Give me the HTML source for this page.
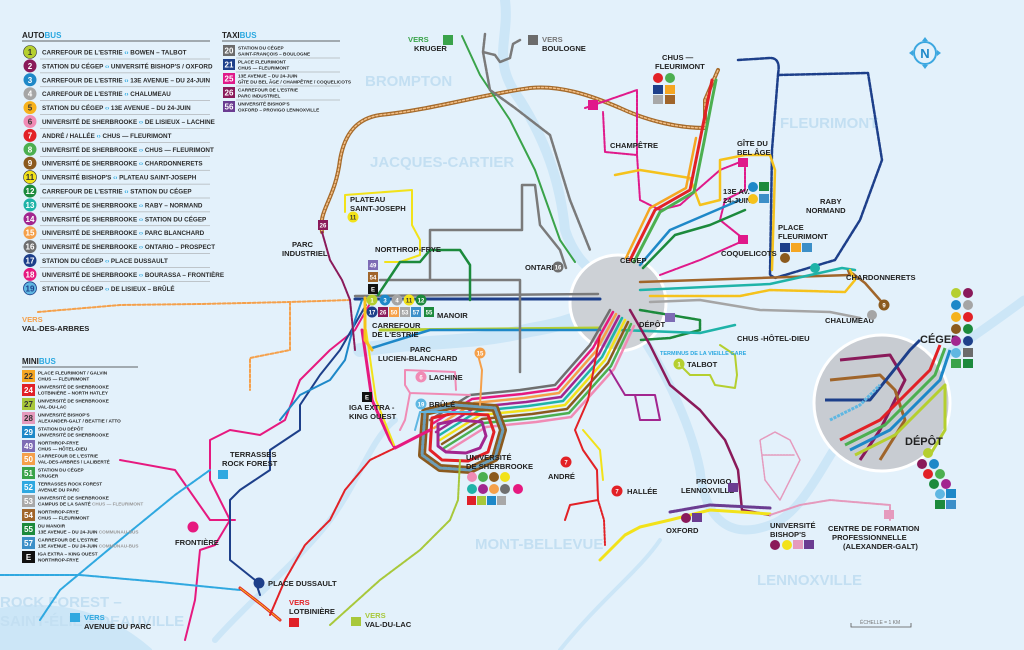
<!DOCTYPE html>
<html><head><meta charset="utf-8"><style>
html,body{margin:0;padding:0;background:#e3f1fb;}
svg{display:block}
text{font-family:"Liberation Sans Narrow","Liberation Sans",sans-serif;font-weight:bold}
.lg{font-size:6.3px;fill:#2a2a2a}
.sm{font-size:4.7px;fill:#2a2a2a}
.nm{font-size:6px;fill:#fff;text-anchor:middle}
.lbl{font-size:7.6px;fill:#222}
.st{font-size:5px;fill:#777;font-weight:normal}
.big{font-size:15px;fill:#c3dff2}
</style></head><body>
<svg width="1024" height="650" viewBox="0 0 1024 650" xmlns="http://www.w3.org/2000/svg">
<rect width="1024" height="650" fill="#e3f1fb"/>
<g fill="none" stroke="#cce6f7" stroke-linecap="round" stroke-linejoin="round">
<path d="M505 0 C510 40 490 60 520 100 C545 140 560 180 565 230 C575 260 590 270 610 285" stroke-width="10"/>
<path d="M360 350 C420 340 470 345 530 330 C560 325 580 320 610 300" stroke-width="14"/>
<path d="M630 320 C660 360 690 420 700 470 C705 520 730 540 770 525 C800 515 820 470 840 440 C870 400 930 370 1024 300" stroke-width="9"/>
<path d="M215 640 C250 600 300 560 330 520 C360 480 370 440 395 420" stroke-width="6"/>
<path d="M0 610 C60 600 110 615 150 650 L0 650Z" fill="#cce6f7" stroke-width="4"/>
<path d="M660 540 C640 570 600 600 560 650" stroke-width="4"/>
</g>
<text class="big" x="365" y="86">BROMPTON</text>
<text class="big" x="370" y="167">JACQUES-CARTIER</text>
<text class="big" x="780" y="128">FLEURIMONT</text>
<text class="big" x="475" y="549">MONT-BELLEVUE</text>
<text class="big" x="757" y="585">LENNOXVILLE</text>
<text class="big" x="0" y="607">ROCK FOREST –</text>
<text class="big" x="0" y="626">SAINT-ÉLIE – DEAUVILLE</text>
<circle cx="618" cy="303" r="48" fill="#cdd1d6" stroke="#fff" stroke-width="3"/>
<g fill="none" stroke-linejoin="round" stroke-linecap="round">
<path d="M322 232 C318 210 335 200 340 160 C345 130 360 118 380 115 C430 110 480 95 530 88 C560 85 590 95 620 108 C650 122 680 128 705 128 L705 100 L718 70" stroke="#a56a2a" stroke-width="4"/>
<path d="M322 232 C318 210 335 200 340 160 C345 130 360 118 380 115 C430 110 480 95 530 88 C560 85 590 95 620 108 C650 122 680 128 705 128 L705 100 L718 70" stroke="#f3c089" stroke-width="1.5" stroke-dasharray="2 2"/>
<path d="M38 312 L120 305 L200 304 L290 302 L350 300" stroke="#f5a04a" stroke-width="2" stroke-dasharray="3 2"/>
<path d="M290 302 L290 350 L250 358 L250 390" stroke="#f5a04a" stroke-width="2" stroke-dasharray="3 2"/>
<path d="M738 60 L770 58 C782 58 778 72 778 75 L868 73 L882 160 L860 220 L835 260 L775 278 L770 275 L772 150 L778 75" stroke="#1d3f8a" stroke-width="2.5" stroke-dasharray="4 1.5"/>
<path d="M355 299 L600 299" stroke="#1d3f8a" stroke-width="3"/>
<path d="M355 296 L598 294" stroke="#7a7a7a" stroke-width="2.5"/>
<path d="M380 330 L600 328" stroke="#b5cf2f" stroke-width="3"/>
<path d="M372 348 L430 330 L600 330" stroke="#1e88c8" stroke-width="2.5"/>
<path d="M380 280 L520 280 L520 372 M430 280 L430 230 L522 230 L522 185 L535 185 L540 225 L560 250 L566 268" stroke="#7a7a7a" stroke-width="2.5"/>
<path d="M462 36 L480 75 L510 120 L535 170 L560 240 L575 262" stroke="#3aa34a" stroke-width="2"/>
<path d="M485 34 L483 52 L495 55 L500 62 L510 58 L513 44 L520 40 M483 52 L490 90 L515 108 L550 135 L570 200 L590 250" stroke="#7a7a7a" stroke-width="2.5" stroke-dasharray="3 1"/>
<path d="M585 108 L637 90 L637 155 L605 152 L603 112 M637 155 L640 200 L660 210 L680 205 L720 170 L745 160 L745 190 L725 200 L720 220 L745 240 L700 260 L660 275" stroke="#e0198a" stroke-width="2" stroke-dasharray="3 1"/>
<path d="M615 175 L640 170 L690 178 L700 205 L720 200 L720 160 L745 155 L770 155 L775 170 L772 270" stroke="#f5c21c" stroke-width="2.5"/>
<path d="M630 260 L655 210 L690 190 L700 140 L708 100 L712 80" stroke="#e22126" stroke-width="3"/>
<path d="M634 262 L660 212 L694 192 L704 142 L712 100 L716 80" stroke="#4caf50" stroke-width="3"/>
<path d="M626 258 L650 208 L686 188 L696 138" stroke="#f5a623" stroke-width="2.5"/>
<path d="M640 265 L670 230 L705 215 L740 200" stroke="#1e88c8" stroke-width="2.5"/>
<path d="M643 268 L675 235 L710 225 L745 210" stroke="#1c8a3c" stroke-width="2.5"/>
<path d="M640 282 L760 278 L850 275 L848 270 L865 283 L880 300 L884 306" stroke="#a0652a" stroke-width="2.5"/>
<path d="M640 290 L770 284 L842 268 L855 270" stroke="#1fb3a8" stroke-width="2.5"/>
<path d="M650 296 L740 296 L770 290 L845 292 L855 280 L850 270" stroke="#f5c21c" stroke-width="2.5" stroke-dasharray="4 1"/>
<path d="M650 302 L700 300 L730 305 L760 310 L830 312 L860 318" stroke="#a5a5a5" stroke-width="2.5"/>
<path d="M640 310 L700 320 L700 330 L670 338 L640 340" stroke="#1c8a3c" stroke-width="2.5" stroke-dasharray="3 1"/>
<path d="M620 330 L700 333 L735 325" stroke="#1fb3a8" stroke-width="2.5"/>
<path d="M680 365 L690 375 L710 375 L715 385 L735 388 L737 375 L735 355 L720 345" stroke="#b5cf2f" stroke-width="2"/>
<path d="M630 310 L650 345 L670 385 L700 410 L725 440 L738 470 L742 510 L770 515" stroke="#8a1a5a" stroke-width="2.5"/>
<path d="M600 560 L625 535 L640 527 L670 520 L710 510 L770 514" stroke="#f2e21a" stroke-width="3"/>
<path d="M670 512 L710 505 L770 508" stroke="#6b3c91" stroke-width="3" stroke-dasharray="2 1"/>
<path d="M770 515 L800 505 L830 500 L890 505 L890 520" stroke="#e59abd" stroke-width="2" stroke-dasharray="3 1"/>
<path d="M780 500 L765 480 L760 440 L775 432 L790 440 L800 460 L790 480 L780 500 M762 455 L795 455" stroke="#e59abd" stroke-width="1.5" stroke-dasharray="2 1"/>
<g stroke-width="2.5">
<path d="M430 420 L470 395 L520 390 L555 385 L590 345 L610 310" stroke="#6f6f6f"/>
<path d="M432 424 L472 399 L522 394 L557 389 L593 348 L613 312" stroke="#e6197f"/>
<path d="M434 428 L474 403 L524 398 L559 393 L596 351 L616 314" stroke="#f5a04a"/>
<path d="M436 432 L476 407 L526 402 L561 397 L599 354 L619 316" stroke="#a2268f"/>
<path d="M438 436 L478 411 L528 406 L563 401 L602 357 L622 318" stroke="#1fb3a8"/>
<path d="M440 440 L480 415 L530 410 L565 405 L605 360 L625 320" stroke="#f2e21a"/>
<path d="M442 444 L482 419 L532 414 L567 409 L608 363 L628 322" stroke="#8b5a1e"/>
<path d="M444 448 L484 423 L534 418 L569 413 L611 366 L631 324" stroke="#4caf50"/>
<path d="M446 452 L486 427 L536 422 L571 417 L614 369 L634 326" stroke="#f08bb5"/>
</g>
<path d="M425 412 L455 405 L495 408 L503 430 L495 458 L470 470 L440 468 L422 455 Z" stroke="#8b5a1e" stroke-width="8"/>
<path d="M425 412 L455 405 L495 408 L503 430 L495 458 L470 470 L440 468 L422 455 Z" stroke="#6c9eb8" stroke-width="3" stroke-dasharray="3 2"/>
<path d="M432 418 L455 413 L488 415 L494 432 L488 452 L468 461 L442 460 L430 450 Z" stroke="#e22126" stroke-width="3"/>
<path d="M438 424 L458 420 L482 422 L486 436 L480 448 L466 453 L446 452 L438 446 Z" stroke="#a2268f" stroke-width="3"/>
<path d="M600 335 L588 400 L575 430 L583 450 L597 470 L598 500 L570 505 L565 520" stroke="#e22126" stroke-width="2"/>
<path d="M598 500 L604 520 L605 545" stroke="#e22126" stroke-width="2" stroke-dasharray="2 1.5"/>
<path d="M583 430 L600 450 L603 480" stroke="#f2e21a" stroke-width="2"/>
<path d="M610 370 L625 395 L655 395 L660 420 L640 420 L635 395" stroke="#a2268f" stroke-width="2"/>
<path d="M372 300 L355 330 L330 350 L300 380 L285 420 L260 435 L230 430 L210 440 L210 480 L230 520 L215 545 L200 550 L195 600 L185 640" stroke="#e6197f" stroke-width="2"/>
<path d="M120 460 L175 470 L210 520 L235 520" stroke="#e6197f" stroke-width="2"/>
<path d="M366 305 L340 350 L320 375 L300 405 L300 430 L270 450 L270 470 L240 490 L230 500 L230 560 L255 580 L260 595" stroke="#1d3f8a" stroke-width="2"/>
<path d="M362 300 L355 320 L345 360 L330 380 L300 395 L280 420" stroke="#1e88c8" stroke-width="2"/>
<path d="M210 470 L175 495 L120 540 L60 590 L40 620" stroke="#2fa8e0" stroke-width="2" stroke-dasharray="4 1"/>
<path d="M0 575 L80 575 L160 582 L240 590" stroke="#2fa8e0" stroke-width="2" stroke-dasharray="4 1"/>
<path d="M240 588 L262 605 L280 620" stroke="#e22126" stroke-width="3"/>
<path d="M240 588 L262 605 L280 620" stroke="#f5c21c" stroke-width="1" stroke-dasharray="2 1"/>
<path d="M395 448 L370 460 L345 490 L330 520 L305 545 L285 580 L270 615" stroke="#e22126" stroke-width="2" stroke-dasharray="3 1"/>
<path d="M362 330 L372 400 L390 440 L395 448 L430 430" stroke="#e6197f" stroke-width="3"/>
<path d="M366 330 L376 400 L394 445" stroke="#f2e21a" stroke-width="2"/>
<path d="M460 460 L458 500 L450 520 L420 550 L380 580 L330 625" stroke="#a8c83a" stroke-width="2" stroke-dasharray="3 1"/>
<path d="M470 395 L410 393 L405 385 L405 370 L455 372 L456 390 M410 393 L405 420 L400 430" stroke="#f08bb5" stroke-width="2"/>
<path d="M470 412 L420 412 L415 430" stroke="#5fb7e2" stroke-width="2"/>
<path d="M478 355 L482 370 L480 405" stroke="#f5a04a" stroke-width="2"/>
<path d="M322 232 L330 260 L342 280 L350 300 L355 350" stroke="#8a1a5a" stroke-width="2" stroke-dasharray="3 1"/>
<path d="M345 212 L345 195 L412 190 L412 225 L420 240 L420 255 L400 262 L385 262" stroke="#f2e21a" stroke-width="2"/>
<path d="M378 295 L400 262 L420 262 L430 250 L460 250 L470 265 L470 300" stroke="#1c8a3c" stroke-width="2.5"/>
<path d="M365 298 L365 340 L372 350" stroke="#f5c21c" stroke-width="3"/>
</g>
<circle cx="882" cy="403" r="68" fill="#c8ccd2" stroke="#fff" stroke-width="3"/>
<g fill="none" stroke-width="3" stroke-linejoin="round">
<path d="M840 360 L890 355 L905 380 L880 430 L860 460" stroke="#8a1a5a"/>
<path d="M830 380 L880 375 L895 390 L905 420 L880 460" stroke="#a0652a"/>
<path d="M825 400 L870 400 L910 350 L920 340" stroke="#1d3f8a"/>
<path d="M840 440 L880 420 L930 370 L940 345" stroke="#e22126"/>
<path d="M845 445 L885 425 L935 375 L945 348" stroke="#4caf50"/>
<path d="M850 450 L890 430 L940 380 L950 350" stroke="#1e88c8"/>
<path d="M855 455 L895 435 L945 385 L945 430 L930 455" stroke="#b5cf2f"/>
<path d="M830 420 L860 405 L880 385" stroke="#5fb7e2" stroke-dasharray="3 1"/>
</g>
<g>
<circle cx="372" cy="300" r="5.5" fill="#b5cf2f"/><text class="nm" x="372" y="302.5">1</text>
<circle cx="385" cy="300" r="5.5" fill="#1e88c8"/><text class="nm" x="385" y="302.5">3</text>
<circle cx="397" cy="300" r="5.5" fill="#a5a5a5"/><text class="nm" x="397" y="302.5">4</text>
<circle cx="409" cy="300" r="5.5" fill="#f2e21a"/><text class="nm" x="409" y="302.5" style="fill:#333">11</text>
<circle cx="421" cy="300" r="5.5" fill="#1c8a3c"/><text class="nm" x="421" y="302.5">12</text>
<circle cx="372" cy="312" r="5.5" fill="#1d3f8a"/><text class="nm" x="372" y="314.5">17</text>
<rect x="378" y="307" width="10" height="10" fill="#8a1a5a"/><text class="nm" x="383" y="314.5">26</text>
<rect x="389" y="307" width="10" height="10" fill="#f5a04a"/><text class="nm" x="394" y="314.5">50</text>
<rect x="400" y="307" width="10" height="10" fill="#a8a8a8"/><text class="nm" x="405" y="314.5">53</text>
<rect x="411" y="307" width="10" height="10" fill="#3c8fc8"/><text class="nm" x="416" y="314.5">57</text>
<rect x="424" y="307" width="10" height="10" fill="#1c8a3c"/><text class="nm" x="429" y="314.5">55</text>
<rect x="368" y="260" width="10" height="10" fill="#7e6cb5"/><text class="nm" x="373" y="267.5">49</text>
<rect x="368" y="272" width="10" height="10" fill="#a0652a"/><text class="nm" x="373" y="279.5">54</text>
<rect x="368" y="284" width="10" height="10" fill="#111"/><text class="nm" x="373" y="291.5">E</text>
<rect x="362" y="392" width="10" height="10" fill="#111"/><text class="nm" x="367" y="399.5">E</text>
<text class="lbl" x="350" y="202">PLATEAU</text><text class="lbl" x="350" y="211">SAINT-JOSEPH</text>
<circle cx="353" cy="217" r="5.5" fill="#f2e21a"/><text class="nm" x="353" y="219.5" style="fill:#333">11</text>
<text class="lbl" x="375" y="252">NORTHROP-FRYE</text>
<text class="lbl" x="292" y="247">PARC</text><text class="lbl" x="282" y="256">INDUSTRIEL</text>
<rect x="318" y="220" width="10" height="10" fill="#8a1a5a"/><text class="nm" x="323" y="227.5">26</text>
<text class="lbl" x="372" y="328">CARREFOUR</text><text class="lbl" x="372" y="337">DE L'ESTRIE</text>
<text class="lbl" x="437" y="318">MANOIR</text>
<text class="lbl" x="410" y="352">PARC</text><text class="lbl" x="378" y="361">LUCIEN-BLANCHARD</text>
<circle cx="480" cy="353" r="5.5" fill="#f5a04a"/><text class="nm" x="480" y="355.5">15</text>
<circle cx="421" cy="377" r="5.5" fill="#f08bb5"/><text class="nm" x="421" y="379.5">6</text><text class="lbl" x="429" y="380">LACHINE</text>
<circle cx="421" cy="404" r="5.5" fill="#5fb7e2"/><text class="nm" x="421" y="406.5">19</text><text class="lbl" x="429" y="407">BRÛLÉ</text>
<text class="lbl" x="349" y="410">IGA EXTRA -</text><text class="lbl" x="349" y="419">KING OUEST</text>
<text class="lbl" x="525" y="270">ONTARIO</text>
<circle cx="558" cy="267" r="5.5" fill="#6f6f6f"/><text class="nm" x="558" y="269.5">16</text>
<text class="lbl" x="466" y="460">UNIVERSITÉ</text><text class="lbl" x="466" y="469">DE SHERBROOKE</text>
<circle cx="472" cy="477" r="5" fill="#f08bb5"/><circle cx="483" cy="477" r="5" fill="#4caf50"/><circle cx="494" cy="477" r="5" fill="#8b5a1e"/><circle cx="505" cy="477" r="5" fill="#f2e21a"/>
<circle cx="472" cy="489" r="5" fill="#1fb3a8"/><circle cx="483" cy="489" r="5" fill="#a2268f"/><circle cx="494" cy="489" r="5" fill="#f5a04a"/><circle cx="505" cy="489" r="5" fill="#6f6f6f"/><circle cx="518" cy="489" r="5" fill="#e6197f"/>
<rect x="467" y="496" width="9" height="9" fill="#e02128"/><rect x="477" y="496" width="9" height="9" fill="#a8c83a"/><rect x="487" y="496" width="9" height="9" fill="#1e88c8"/><rect x="497" y="496" width="9" height="9" fill="#a8a8a8"/>
<circle cx="566" cy="462" r="5.5" fill="#e22126"/><text class="nm" x="566" y="464.5">7</text><text class="lbl" x="548" y="479">ANDRÉ</text>
<circle cx="617" cy="491" r="5.5" fill="#e22126"/><text class="nm" x="617" y="493.5">7</text><text class="lbl" x="627" y="494">HALLÉE</text>
<text class="lbl" x="610" y="148">CHAMPÊTRE</text>
<rect x="588" y="100" width="10" height="10" fill="#e0198a"/>
<text class="lbl" x="662" y="60">CHUS —</text><text class="lbl" x="655" y="69">FLEURIMONT</text>
<circle cx="658" cy="78" r="5" fill="#e22126"/><circle cx="670" cy="78" r="5" fill="#4caf50"/>
<rect x="653" y="85" width="10" height="9" fill="#1d3f8a"/><rect x="665" y="85" width="10" height="9" fill="#f5a623"/>
<rect x="653" y="95" width="10" height="9" fill="#a8a8a8"/><rect x="665" y="95" width="10" height="9" fill="#a0652a"/>
<text class="lbl" x="737" y="146">GÎTE DU</text><text class="lbl" x="737" y="155">BEL ÂGE</text>
<rect x="738" y="158" width="10" height="9" fill="#e0198a"/>
<text class="lbl" x="723" y="194">13E AV.</text><text class="lbl" x="723" y="203">24-JUIN</text>
<circle cx="753" cy="187" r="5" fill="#1e88c8"/><rect x="759" y="182" width="10" height="9" fill="#1c8a3c"/>
<circle cx="753" cy="199" r="5" fill="#f5c21c"/><rect x="759" y="194" width="10" height="9" fill="#3c8fc8"/>
<rect x="738" y="235" width="10" height="9" fill="#e0198a"/>
<text class="lbl" x="721" y="256">COQUELICOTS</text>
<text class="lbl" x="620" y="263">CÉGEP</text>
<text class="lbl" x="778" y="230">PLACE</text><text class="lbl" x="778" y="239">FLEURIMONT</text>
<rect x="780" y="243" width="10" height="9" fill="#1d3f8a"/><rect x="791" y="243" width="10" height="9" fill="#f5a623"/><rect x="802" y="243" width="10" height="9" fill="#3c8fc8"/>
<circle cx="785" cy="258" r="5" fill="#8b5a1e"/>
<text class="lbl" x="820" y="204">RABY</text><text class="lbl" x="806" y="213">NORMAND</text>
<circle cx="815" cy="268" r="5" fill="#1fb3a8"/>
<text class="lbl" x="846" y="280">CHARDONNERETS</text>
<circle cx="884" cy="305" r="5.5" fill="#8b5a1e"/><text class="nm" x="884" y="307.5">9</text>
<text class="lbl" x="825" y="323">CHALUMEAU</text>
<circle cx="872" cy="315" r="5" fill="#a5a5a5"/>
<text class="lbl" x="639" y="327">DÉPÔT</text>
<rect x="665" y="313" width="10" height="9" fill="#7e6cb5"/>
<text class="lbl" x="737" y="341">CHUS -HÔTEL-DIEU</text>
<text x="660" y="355" style="font-size:5.5px;fill:#2aa8e0">TERMINUS DE LA VIEILLE GARE</text>
<circle cx="679" cy="364" r="5.5" fill="#b5cf2f"/><text class="nm" x="679" y="366.5">1</text><text class="lbl" x="687" y="367">TALBOT</text>
<text class="lbl" x="696" y="484">PROVIGO</text><text class="lbl" x="681" y="493">LENNOXVILLE</text>
<rect x="728" y="483" width="10" height="9" fill="#6b3c91"/>
<circle cx="686" cy="518" r="5" fill="#8a1a5a"/><rect x="692" y="513" width="10" height="9" fill="#6b3c91"/>
<text class="lbl" x="666" y="533">OXFORD</text>
<text class="lbl" x="770" y="528">UNIVERSITÉ</text><text class="lbl" x="770" y="537">BISHOP'S</text>
<circle cx="775" cy="545" r="5" fill="#8a1a5a"/><circle cx="787" cy="545" r="5" fill="#f2e21a"/><rect x="793" y="540" width="10" height="9" fill="#e59abd"/><rect x="804" y="540" width="10" height="9" fill="#6b3c91"/>
<rect x="884" y="510" width="10" height="9" fill="#e59abd"/>
<text class="lbl" x="828" y="531">CENTRE DE FORMATION</text><text class="lbl" x="832" y="540">PROFESSIONNELLE</text><text class="lbl" x="843" y="549">(ALEXANDER-GALT)</text>
<text class="lbl" x="920" y="343" style="font-size:11px">CÉGEP</text>
<text class="lbl" x="905" y="445" style="font-size:11px">DÉPÔT</text>
<g>
<circle cx="956" cy="293" r="5" fill="#b5cf2f"/><circle cx="968" cy="293" r="5" fill="#8a1a5a"/>
<circle cx="956" cy="305" r="5" fill="#1e88c8"/><circle cx="968" cy="305" r="5" fill="#a5a5a5"/>
<circle cx="956" cy="317" r="5" fill="#f5b21c"/><circle cx="968" cy="317" r="5" fill="#e22126"/>
<circle cx="956" cy="329" r="5" fill="#8b5a1e"/><circle cx="968" cy="329" r="5" fill="#1c8a3c"/>
<circle cx="956" cy="341" r="5" fill="#a2268f"/><circle cx="968" cy="341" r="5" fill="#1d3f8a"/>
<circle cx="956" cy="353" r="5" fill="#5fb7e2"/><rect x="963" y="348" width="10" height="9" fill="#6c6c6c"/>
<rect x="951" y="359" width="10" height="9" fill="#3aa34a"/><rect x="963" y="359" width="10" height="9" fill="#1c8a3c"/>
<circle cx="928" cy="453" r="5" fill="#b5cf2f"/>
<circle cx="922" cy="464" r="5" fill="#8a1a5a"/><circle cx="934" cy="464" r="5" fill="#1e88c8"/>
<circle cx="928" cy="474" r="5" fill="#e22126"/><circle cx="940" cy="474" r="5" fill="#4caf50"/>
<circle cx="934" cy="484" r="5" fill="#1c8a3c"/><circle cx="946" cy="484" r="5" fill="#a2268f"/>
<circle cx="940" cy="494" r="5" fill="#5fb7e2"/><rect x="946" y="489" width="10" height="9" fill="#1e88c8"/>
<rect x="935" y="500" width="10" height="9" fill="#1c8a3c"/><rect x="946" y="500" width="10" height="9" fill="#3c8fc8"/>
</g>
<text class="lbl" x="408" y="42" style="fill:#3aa34a">VERS</text><text class="lbl" x="414" y="51">KRUGER</text><rect x="443" y="35" width="10" height="10" fill="#3aa34a"/>
<rect x="528" y="35" width="10" height="10" fill="#6c6c6c"/><text class="lbl" x="542" y="42" style="fill:#777">VERS</text><text class="lbl" x="542" y="51">BOULOGNE</text>
<text class="lbl" x="22" y="322" style="fill:#f5a04a">VERS</text><text class="lbl" x="22" y="331">VAL-DES-ARBRES</text>
<text class="lbl" x="230" y="457">TERRASSES</text><text class="lbl" x="222" y="466">ROCK FOREST</text><rect x="218" y="470" width="10" height="9" fill="#2fa8e0"/>
<circle cx="193" cy="527" r="5.5" fill="#e6197f"/><text class="lbl" x="175" y="545">FRONTIÈRE</text>
<circle cx="259" cy="583" r="5.5" fill="#1d3f8a"/><text class="lbl" x="268" y="586">PLACE DUSSAULT</text>
<text class="lbl" x="289" y="605" style="fill:#e22126">VERS</text><text class="lbl" x="289" y="614">LOTBINIÈRE</text><rect x="289" y="618" width="10" height="9" fill="#e02128"/>
<rect x="351" y="617" width="10" height="9" fill="#a8c83a"/><text class="lbl" x="365" y="618" style="fill:#a8c83a">VERS</text><text class="lbl" x="365" y="627">VAL-DU-LAC</text>
<rect x="70" y="613" width="10" height="9" fill="#2fa8e0"/><text class="lbl" x="84" y="620" style="fill:#2fa8e0">VERS</text><text class="lbl" x="84" y="629">AVENUE DU PARC</text>
</g>
<circle cx="925" cy="53" r="11" fill="#e3f1fb" stroke="#3ba7e0" stroke-width="2"/>
<text x="925" y="58" text-anchor="middle" style="font-size:13px;fill:#1e88c8">N</text>
<path d="M925 37 l-3 4 h6z M925 69 l-3 -4 h6z M909 53 l4 -3 v6z M941 53 l-4 -3 v6z" fill="#3ba7e0"/>
<path d="M851 623 v4 h60 v-4" fill="none" stroke="#555" stroke-width="0.8"/>
<text class="st" x="860" y="624">ÉCHELLE = 1 KM</text>

<text x="22" y="38" style="font-size:8px;fill:#222">AUTO<tspan fill="#2aa8e0">BUS</tspan></text>
<line x1="22" y1="41" x2="210" y2="41" stroke="#333" stroke-width="0.8"/>
<g>
<g transform="translate(0,52)"><circle cx="30" cy="0" r="6.5" fill="#b5cf2f" stroke="#333" stroke-width=".6"/><text class="nm" x="30" y="3" style="fill:#333;font-size:8px">1</text><text class="lg" x="42" y="2.5">CARREFOUR DE L'ESTRIE <tspan fill="#2aa8e0">‹›</tspan> BOWEN – TALBOT</text><line x1="40" y1="7" x2="210" y2="7" stroke="#999" stroke-width=".5"/></g>
<g transform="translate(0,65.9)"><circle cx="30" cy="0" r="6.5" fill="#8a1a5a"/><text class="nm" x="30" y="3" style="font-size:8px">2</text><text class="lg" x="42" y="2.5">STATION DU CÉGEP <tspan fill="#2aa8e0">‹›</tspan> UNIVERSITÉ BISHOP'S / OXFORD</text><line x1="40" y1="7" x2="210" y2="7" stroke="#999" stroke-width=".5"/></g>
<g transform="translate(0,79.8)"><circle cx="30" cy="0" r="6.5" fill="#1e88c8"/><text class="nm" x="30" y="3" style="font-size:8px">3</text><text class="lg" x="42" y="2.5">CARREFOUR DE L'ESTRIE <tspan fill="#2aa8e0">‹›</tspan> 13E AVENUE – DU 24-JUIN</text><line x1="40" y1="7" x2="210" y2="7" stroke="#999" stroke-width=".5"/></g>
<g transform="translate(0,93.7)"><circle cx="30" cy="0" r="6.5" fill="#a5a5a5"/><text class="nm" x="30" y="3" style="font-size:8px">4</text><text class="lg" x="42" y="2.5">CARREFOUR DE L'ESTRIE <tspan fill="#2aa8e0">‹›</tspan> CHALUMEAU</text><line x1="40" y1="7" x2="210" y2="7" stroke="#999" stroke-width=".5"/></g>
<g transform="translate(0,107.6)"><circle cx="30" cy="0" r="6.5" fill="#f7b21c"/><text class="nm" x="30" y="3" style="fill:#333;font-size:8px">5</text><text class="lg" x="42" y="2.5">STATION DU CÉGEP <tspan fill="#2aa8e0">‹›</tspan> 13E AVENUE – DU 24-JUIN</text><line x1="40" y1="7" x2="210" y2="7" stroke="#999" stroke-width=".5"/></g>
<g transform="translate(0,121.5)"><circle cx="30" cy="0" r="6.5" fill="#f08bb5"/><text class="nm" x="30" y="3" style="fill:#333;font-size:8px">6</text><text class="lg" x="42" y="2.5">UNIVERSITÉ DE SHERBROOKE <tspan fill="#2aa8e0">‹›</tspan> DE LISIEUX – LACHINE</text><line x1="40" y1="7" x2="210" y2="7" stroke="#999" stroke-width=".5"/></g>
<g transform="translate(0,135.4)"><circle cx="30" cy="0" r="6.5" fill="#e22126"/><text class="nm" x="30" y="3" style="font-size:8px">7</text><text class="lg" x="42" y="2.5">ANDRÉ / HALLÉE <tspan fill="#2aa8e0">‹›</tspan> CHUS — FLEURIMONT</text><line x1="40" y1="7" x2="210" y2="7" stroke="#999" stroke-width=".5"/></g>
<g transform="translate(0,149.3)"><circle cx="30" cy="0" r="6.5" fill="#4caf50"/><text class="nm" x="30" y="3" style="font-size:8px">8</text><text class="lg" x="42" y="2.5">UNIVERSITÉ DE SHERBROOKE <tspan fill="#2aa8e0">‹›</tspan> CHUS — FLEURIMONT</text><line x1="40" y1="7" x2="210" y2="7" stroke="#999" stroke-width=".5"/></g>
<g transform="translate(0,163.2)"><circle cx="30" cy="0" r="6.5" fill="#8b5a1e"/><text class="nm" x="30" y="3" style="font-size:8px">9</text><text class="lg" x="42" y="2.5">UNIVERSITÉ DE SHERBROOKE <tspan fill="#2aa8e0">‹›</tspan> CHARDONNERETS</text><line x1="40" y1="7" x2="210" y2="7" stroke="#999" stroke-width=".5"/></g>
<g transform="translate(0,177.1)"><circle cx="30" cy="0" r="6.5" fill="#f2e21a" stroke="#333" stroke-width=".6"/><text class="nm" x="30" y="3" style="fill:#333;font-size:8px">11</text><text class="lg" x="42" y="2.5">UNIVERSITÉ BISHOP'S <tspan fill="#2aa8e0">‹›</tspan> PLATEAU SAINT-JOSEPH</text><line x1="40" y1="7" x2="210" y2="7" stroke="#999" stroke-width=".5"/></g>
<g transform="translate(0,191)"><circle cx="30" cy="0" r="6.5" fill="#1c8a3c"/><text class="nm" x="30" y="3" style="font-size:8px">12</text><text class="lg" x="42" y="2.5">CARREFOUR DE L'ESTRIE <tspan fill="#2aa8e0">‹›</tspan> STATION DU CÉGEP</text><line x1="40" y1="7" x2="210" y2="7" stroke="#999" stroke-width=".5"/></g>
<g transform="translate(0,204.9)"><circle cx="30" cy="0" r="6.5" fill="#1fb3a8"/><text class="nm" x="30" y="3" style="font-size:8px">13</text><text class="lg" x="42" y="2.5">UNIVERSITÉ DE SHERBROOKE <tspan fill="#2aa8e0">‹›</tspan> RABY – NORMAND</text><line x1="40" y1="7" x2="210" y2="7" stroke="#999" stroke-width=".5"/></g>
<g transform="translate(0,218.8)"><circle cx="30" cy="0" r="6.5" fill="#a2268f"/><text class="nm" x="30" y="3" style="font-size:8px">14</text><text class="lg" x="42" y="2.5">UNIVERSITÉ DE SHERBROOKE <tspan fill="#2aa8e0">‹›</tspan> STATION DU CÉGEP</text><line x1="40" y1="7" x2="210" y2="7" stroke="#999" stroke-width=".5"/></g>
<g transform="translate(0,232.7)"><circle cx="30" cy="0" r="6.5" fill="#f5a04a"/><text class="nm" x="30" y="3" style="font-size:8px">15</text><text class="lg" x="42" y="2.5">UNIVERSITÉ DE SHERBROOKE <tspan fill="#2aa8e0">‹›</tspan> PARC BLANCHARD</text><line x1="40" y1="7" x2="210" y2="7" stroke="#999" stroke-width=".5"/></g>
<g transform="translate(0,246.6)"><circle cx="30" cy="0" r="6.5" fill="#6f6f6f"/><text class="nm" x="30" y="3" style="font-size:8px">16</text><text class="lg" x="42" y="2.5">UNIVERSITÉ DE SHERBROOKE <tspan fill="#2aa8e0">‹›</tspan> ONTARIO – PROSPECT</text><line x1="40" y1="7" x2="210" y2="7" stroke="#999" stroke-width=".5"/></g>
<g transform="translate(0,260.5)"><circle cx="30" cy="0" r="6.5" fill="#1d3f8a"/><text class="nm" x="30" y="3" style="font-size:8px">17</text><text class="lg" x="42" y="2.5">STATION DU CÉGEP <tspan fill="#2aa8e0">‹›</tspan> PLACE DUSSAULT</text><line x1="40" y1="7" x2="210" y2="7" stroke="#999" stroke-width=".5"/></g>
<g transform="translate(0,274.4)"><circle cx="30" cy="0" r="6.5" fill="#e6197f"/><text class="nm" x="30" y="3" style="font-size:8px">18</text><text class="lg" x="42" y="2.5">UNIVERSITÉ DE SHERBROOKE <tspan fill="#2aa8e0">‹›</tspan> BOURASSA – FRONTIÈRE</text><line x1="40" y1="7" x2="210" y2="7" stroke="#999" stroke-width=".5"/></g>
<g transform="translate(0,288.3)"><circle cx="30" cy="0" r="6.5" fill="#5fb7e2" stroke="#1d3f8a" stroke-width=".8"/><text class="nm" x="30" y="3" style="fill:#1d3f8a;font-size:8px">19</text><text class="lg" x="42" y="2.5">STATION DU CÉGEP <tspan fill="#2aa8e0">‹›</tspan> DE LISIEUX – BRÛLÉ</text></g>
</g>
<text x="222" y="38" style="font-size:8px;fill:#222">TAXI<tspan fill="#2aa8e0">BUS</tspan></text>
<line x1="222" y1="41" x2="340" y2="41" stroke="#333" stroke-width="0.8"/>
<g>
<rect x="223" y="45" width="12" height="11" fill="#6c6c6c"/><text class="nm" x="229" y="53.5" style="font-size:8px">20</text><text class="sm" x="238" y="49.5">STATION DU CÉGEP</text><text class="sm" x="238" y="55.5">SAINT-FRANÇOIS – BOULOGNE</text><line x1="236" y1="58" x2="340" y2="58" stroke="#999" stroke-width=".5"/>
<rect x="223" y="59" width="12" height="11" fill="#1d3f8a"/><text class="nm" x="229" y="67.5" style="font-size:8px">21</text><text class="sm" x="238" y="63.5">PLACE FLEURIMONT</text><text class="sm" x="238" y="69.5">CHUS — FLEURIMONT</text><line x1="236" y1="72" x2="340" y2="72" stroke="#999" stroke-width=".5"/>
<rect x="223" y="73" width="12" height="11" fill="#e0198a"/><text class="nm" x="229" y="81.5" style="font-size:8px">25</text><text class="sm" x="238" y="77.5">13E AVENUE – DU 24-JUIN</text><text class="sm" x="238" y="83.5">GÎTE DU BEL ÂGE / CHAMPÊTRE / COQUELICOTS</text><line x1="236" y1="86" x2="340" y2="86" stroke="#999" stroke-width=".5"/>
<rect x="223" y="87" width="12" height="11" fill="#8a1a5a"/><text class="nm" x="229" y="95.5" style="font-size:8px">26</text><text class="sm" x="238" y="91.5">CARREFOUR DE L'ESTRIE</text><text class="sm" x="238" y="97.5">PARC INDUSTRIEL</text><line x1="236" y1="100" x2="340" y2="100" stroke="#999" stroke-width=".5"/>
<rect x="223" y="101" width="12" height="11" fill="#6b3c91"/><text class="nm" x="229" y="109.5" style="font-size:8px">56</text><text class="sm" x="238" y="105.5">UNIVERSITÉ BISHOP'S</text><text class="sm" x="238" y="111.5">OXFORD – PROVIGO LENNOXVILLE</text>
</g>
<text x="22" y="364" style="font-size:8px;fill:#222">MINI<tspan fill="#2aa8e0">BUS</tspan></text>
<line x1="22" y1="367" x2="138" y2="367" stroke="#333" stroke-width="0.8"/>
<g>
<rect x="22" y="370" width="13" height="12" fill="#f5a623"/><text class="nm" x="28.5" y="379" style="fill:#333;font-size:8px">22</text><text class="sm" x="38" y="374.5">PLACE FLEURIMONT / GALVIN</text><text class="sm" x="38" y="380.5">CHUS — FLEURIMONT</text>
<rect x="22" y="384" width="13" height="12" fill="#e02128"/><text class="nm" x="28.5" y="393" style="font-size:8px">24</text><text class="sm" x="38" y="388.5">UNIVERSITÉ DE SHERBROOKE</text><text class="sm" x="38" y="394.5">LOTBINIÈRE – NORTH HATLEY</text>
<rect x="22" y="398" width="13" height="12" fill="#a8c83a"/><text class="nm" x="28.5" y="407" style="fill:#333;font-size:8px">27</text><text class="sm" x="38" y="402.5">UNIVERSITÉ DE SHERBROOKE</text><text class="sm" x="38" y="408.5">VAL-DU-LAC</text>
<rect x="22" y="412" width="13" height="12" fill="#e59abd"/><text class="nm" x="28.5" y="421" style="fill:#333;font-size:8px">28</text><text class="sm" x="38" y="416.5">UNIVERSITÉ BISHOP'S</text><text class="sm" x="38" y="422.5">ALEXANDER-GALT / BEATTIE / ATTO</text>
<rect x="22" y="426" width="13" height="12" fill="#1e88c8"/><text class="nm" x="28.5" y="435" style="font-size:8px">29</text><text class="sm" x="38" y="430.5">STATION DU DÉPÔT</text><text class="sm" x="38" y="436.5">UNIVERSITÉ DE SHERBROOKE</text>
<rect x="22" y="440" width="13" height="12" fill="#7e6cb5"/><text class="nm" x="28.5" y="449" style="font-size:8px">49</text><text class="sm" x="38" y="444.5">NORTHROP-FRYE</text><text class="sm" x="38" y="450.5">CHUS — HÔTEL-DIEU</text>
<rect x="22" y="453" width="13" height="12" fill="#f5a04a"/><text class="nm" x="28.5" y="462" style="font-size:8px">50</text><text class="sm" x="38" y="457.5">CARREFOUR DE L'ESTRIE</text><text class="sm" x="38" y="463.5">VAL-DES-ARBRES / LALIBERTÉ</text>
<rect x="22" y="467" width="13" height="12" fill="#3aa34a"/><text class="nm" x="28.5" y="476" style="font-size:8px">51</text><text class="sm" x="38" y="471.5">STATION DU CÉGEP</text><text class="sm" x="38" y="477.5">KRUGER</text>
<rect x="22" y="481" width="13" height="12" fill="#2fa8e0"/><text class="nm" x="28.5" y="490" style="font-size:8px">52</text><text class="sm" x="38" y="485.5">TERRASSES ROCK FOREST</text><text class="sm" x="38" y="491.5">AVENUE DU PARC</text>
<rect x="22" y="495" width="13" height="12" fill="#a8a8a8"/><text class="nm" x="28.5" y="504" style="font-size:8px">53</text><text class="sm" x="38" y="499.5">UNIVERSITÉ DE SHERBROOKE</text><text class="sm" x="38" y="505.5">CAMPUS DE LA SANTÉ <tspan fill="#999">CHUS — FLEURIMONT</tspan></text>
<rect x="22" y="509" width="13" height="12" fill="#a0652a"/><text class="nm" x="28.5" y="518" style="font-size:8px">54</text><text class="sm" x="38" y="513.5">NORTHROP-FRYE</text><text class="sm" x="38" y="519.5">CHUS — FLEURIMONT</text>
<rect x="22" y="523" width="13" height="12" fill="#1c8a3c"/><text class="nm" x="28.5" y="532" style="font-size:8px">55</text><text class="sm" x="38" y="527.5">DU MANOIR</text><text class="sm" x="38" y="533.5">13E AVENUE – DU 24-JUIN <tspan fill="#999">COMMUNAU-BUS</tspan></text>
<rect x="22" y="537" width="13" height="12" fill="#3c8fc8"/><text class="nm" x="28.5" y="546" style="font-size:8px">57</text><text class="sm" x="38" y="541.5">CARREFOUR DE L'ESTRIE</text><text class="sm" x="38" y="547.5">13E AVENUE – DU 24-JUIN <tspan fill="#999">COMMUNAU-BUS</tspan></text>
<rect x="22" y="551" width="13" height="12" fill="#111"/><text class="nm" x="28.5" y="560" style="font-size:8px">E</text><text class="sm" x="38" y="555.5">IGA EXTRA – KING OUEST</text><text class="sm" x="38" y="561.5">NORTHROP-FRYE</text>
</g>
</svg>
</body></html>
